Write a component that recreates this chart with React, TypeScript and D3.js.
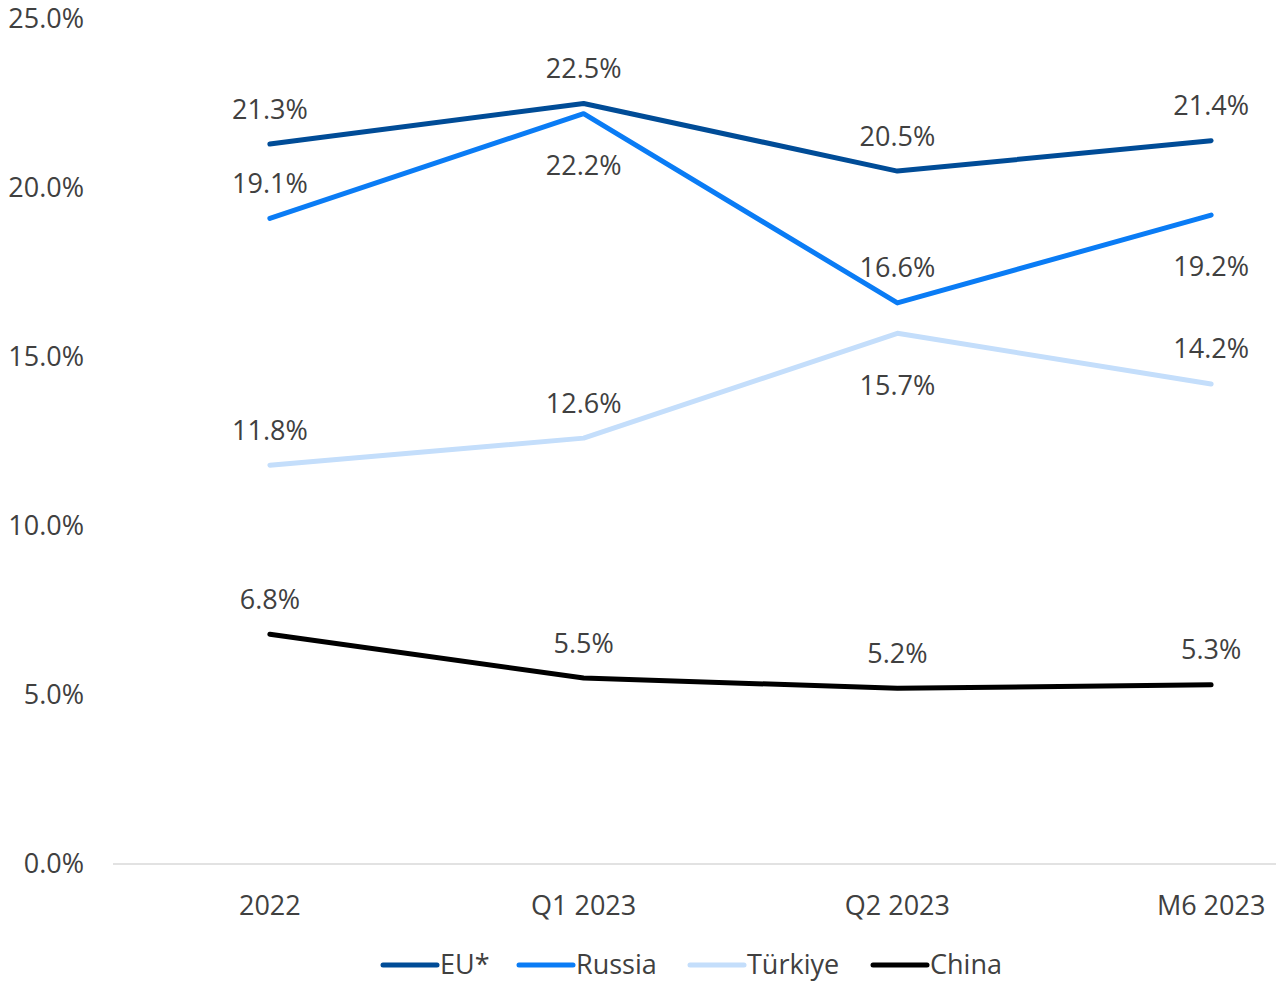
import React from "react";
import * as d3 from "d3";

const categories = ["2022", "Q1 2023", "Q2 2023", "M6 2023"];
const eu = [21.3, 22.5, 20.5, 21.4];
const russia = [19.1, 22.2, 16.6, 19.2];
const turkiye = [11.8, 12.6, 15.7, 14.2];
const china = [6.8, 5.5, 5.2, 5.3];
const yTicks = [0, 5, 10, 15, 20, 25];

// label placement per point: "a" above, "b" below
const series = [
    { name: "EU*", values: eu, color: "#004C97", pos: ["a", "a", "a", "a"] },
    { name: "Russia", values: russia, color: "#0A7CF5", pos: ["a", "b", "a", "b"] },
    { name: "Türkiye", values: turkiye, color: "#C4DEFB", pos: ["a", "a", "b", "a"] },
    { name: "China", values: china, color: "#000000", pos: ["a", "a", "a", "a"] }
];

const layout = {
    width: 1276,
    height: 984,
    left: 113,
    right: 1368,
    top: 19,
    bottom: 864
};

const font = "'Open Sans', sans-serif";
const textColor = "#404040";
const fontSize = 27;

const App = () => {
    const xScale = d3
        .scaleBand()
        .domain(categories)
        .range([layout.left, layout.right]);
    const yScale = d3
        .scaleLinear()
        .domain([0, 25])
        .range([layout.bottom, layout.top]);

    const xPos = (c: string) => (xScale(c) || 0) + xScale.bandwidth() / 2;

    const lineGenerator = d3
        .line<number>()
        .x((d, i) => xPos(categories[i]))
        .y(d => yScale(d));

    const legendX = [383, 519, 690, 873];

    return (
        <svg
            width={layout.width}
            height={layout.height}
            style={{ position: "absolute", left: 0, top: 0 }}
            fontFamily={font}
        >
            <line
                x1={layout.left}
                x2={layout.width}
                y1={yScale(0)}
                y2={yScale(0)}
                stroke="#d9d9d9"
                strokeWidth={1.5}
            />
            {yTicks.map(t => (
                <text
                    key={t}
                    x={84}
                    y={yScale(t)}
                    dy="0.35em"
                    textAnchor="end"
                    fontSize={fontSize}
                    fill={textColor}
                >
                    {t.toFixed(1)}%
                </text>
            ))}
            {categories.map(c => (
                <text
                    key={c}
                    x={xPos(c)}
                    y={906}
                    dy="0.35em"
                    textAnchor="middle"
                    fontSize={fontSize}
                    fill={textColor}
                >
                    {c}
                </text>
            ))}
            {series.map(s => (
                <path
                    key={s.name}
                    d={lineGenerator(s.values) || ""}
                    fill="none"
                    stroke={s.color}
                    strokeWidth={5}
                    strokeLinejoin="round"
                    strokeLinecap="round"
                />
            ))}
            {series.map(s =>
                s.values.map((v, i) => (
                    <text
                        key={s.name + i}
                        x={xPos(categories[i])}
                        y={yScale(v) + (s.pos[i] === "a" ? -35 : 52)}
                        dy="0.35em"
                        textAnchor="middle"
                        fontSize={fontSize}
                        fill={textColor}
                    >
                        {v.toFixed(1)}%
                    </text>
                ))
            )}
            {series.map((s, i) => (
                <g key={s.name} transform={`translate(${legendX[i]},965)`}>
                    <line
                        x1={0}
                        x2={54}
                        y1={0}
                        y2={0}
                        stroke={s.color}
                        strokeWidth={5}
                        strokeLinecap="round"
                    />
                    <text
                        x={57}
                        y={0}
                        dy="0.35em"
                        fontSize={fontSize}
                        fill={textColor}
                    >
                        {s.name}
                    </text>
                </g>
            ))}
        </svg>
    );
};

export default App;
